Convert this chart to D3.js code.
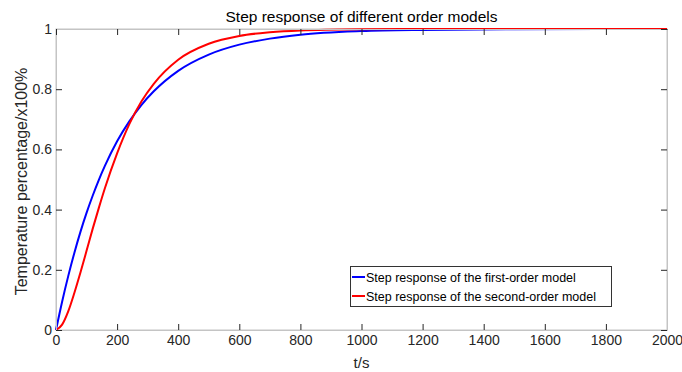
<!DOCTYPE html>
<html>
<head>
<meta charset="utf-8">
<script src="https://cdn.jsdelivr.net/npm/d3@7/dist/d3.min.js"></script>
<style>
  html, body { margin: 0; padding: 0; background: #fff; }
  svg { display: block; font-family: "Liberation Sans", Arial, sans-serif; }
</style>
</head>
<body>
<svg id="chart" width="682" height="372"></svg>
<script>
// ---- data ----
const title = "Step response of different order models";
const xLabel = "t/s";
const yLabel = "Temperature percentage/x100%";
const seriesNames = ["Step response of the first-order model", "Step response of the second-order model"];
const timeS = [0, 20, 40, 60, 80, 100, 120, 140, 160, 200, 240, 280, 320, 400, 500, 600, 700, 800, 1000, 1200, 1500, 2000];
const firstOrder  = [0, 0.094, 0.179, 0.256, 0.326, 0.389, 0.446, 0.498, 0.545, 0.627, 0.693, 0.748, 0.793, 0.861, 0.915, 0.948, 0.968, 0.981, 0.993, 0.997, 0.999, 1.0];
const secondOrder = [0, 0.018, 0.062, 0.123, 0.191, 0.263, 0.336, 0.405, 0.471, 0.587, 0.684, 0.760, 0.818, 0.898, 0.951, 0.977, 0.989, 0.995, 0.999, 1.0, 1.0, 1.0];
const xTicks = [0, 200, 400, 600, 800, 1000, 1200, 1400, 1600, 1800, 2000];
const yTicks = [0, 0.2, 0.4, 0.6, 0.8, 1];
const colors = ["#0000ff", "#ff0000"];

// ---- layout ----
const svg = d3.select("#chart");
const L = 56, R = 667, T = 29, B = 330;
const x = d3.scaleLinear().domain([0, 2000]).range([L, R]);
const y = d3.scaleLinear().domain([0, 1]).range([B, T]);
const tickColor = "#262626", boxColor = "#c4c4c4";

// box
svg.append("rect").attr("x", L).attr("y", T).attr("width", R - L).attr("height", B - T)
  .attr("fill", "none").attr("stroke", boxColor).attr("stroke-width", 1);

// curves
const seriesData = [firstOrder, secondOrder];
const line = d3.line().x(d => x(d[0])).y(d => y(d[1])).curve(d3.curveMonotoneX);
seriesData.forEach((vals, i) => {
  svg.append("path")
    .datum(timeS.map((t, k) => [t, vals[k]]))
    .attr("fill", "none").attr("stroke", colors[i]).attr("stroke-width", 2)
    .attr("d", line);
});

// axes (inward ticks, MATLAB style)
function styleAxis(g) {
  g.select(".domain").attr("stroke", boxColor);
  g.selectAll(".tick line").attr("stroke", tickColor);
  g.selectAll(".tick text").attr("fill", tickColor).attr("font-size", "14px")
    .attr("font-family", "'Liberation Sans', Arial, sans-serif");
}
const fmt = d => String(d);
svg.append("g").attr("transform", `translate(0,${B})`)
  .call(d3.axisBottom(x).tickValues(xTicks).tickFormat(fmt).tickSizeInner(-6).tickSizeOuter(0).tickPadding(5))
  .call(styleAxis);
svg.append("g").attr("transform", `translate(${L},0)`)
  .call(d3.axisLeft(y).tickValues(yTicks).tickFormat(fmt).tickSizeInner(-6).tickSizeOuter(0).tickPadding(4))
  .call(styleAxis);
svg.append("g").attr("transform", `translate(0,${T})`)
  .call(d3.axisTop(x).tickValues(xTicks).tickFormat("").tickSizeInner(-6).tickSizeOuter(0))
  .call(styleAxis);
svg.append("g").attr("transform", `translate(${R},0)`)
  .call(d3.axisRight(y).tickValues(yTicks).tickFormat("").tickSizeInner(-6).tickSizeOuter(0))
  .call(styleAxis);

// title and labels
svg.append("text").attr("x", (L + R) / 2).attr("y", 22).attr("text-anchor", "middle")
  .attr("font-size", "15.5px").attr("fill", "#000").text(title);
svg.append("text").attr("x", (L + R) / 2).attr("y", 368).attr("text-anchor", "middle")
  .attr("font-size", "15px").attr("fill", tickColor).text(xLabel);
svg.append("text").attr("transform", `translate(27,${(T + B) / 2 + 2}) rotate(-90)`).attr("text-anchor", "middle")
  .attr("font-size", "16px").attr("fill", tickColor).text(yLabel);

// legend
const lg = svg.append("g");
lg.append("rect").attr("x", 350.5).attr("y", 266.5).attr("width", 261).attr("height", 40)
  .attr("fill", "#fff").attr("stroke", "#333").attr("stroke-width", 1);
seriesNames.forEach((name, i) => {
  const yy = 277 + i * 19;
  lg.append("line").attr("x1", 352).attr("x2", 365).attr("y1", yy).attr("y2", yy)
    .attr("stroke", colors[i]).attr("stroke-width", 2);
  lg.append("text").attr("x", 366).attr("y", yy + 4.5).attr("font-size", "12.5px")
    .attr("fill", "#000").text(name);
});
</script>
</body>
</html>
